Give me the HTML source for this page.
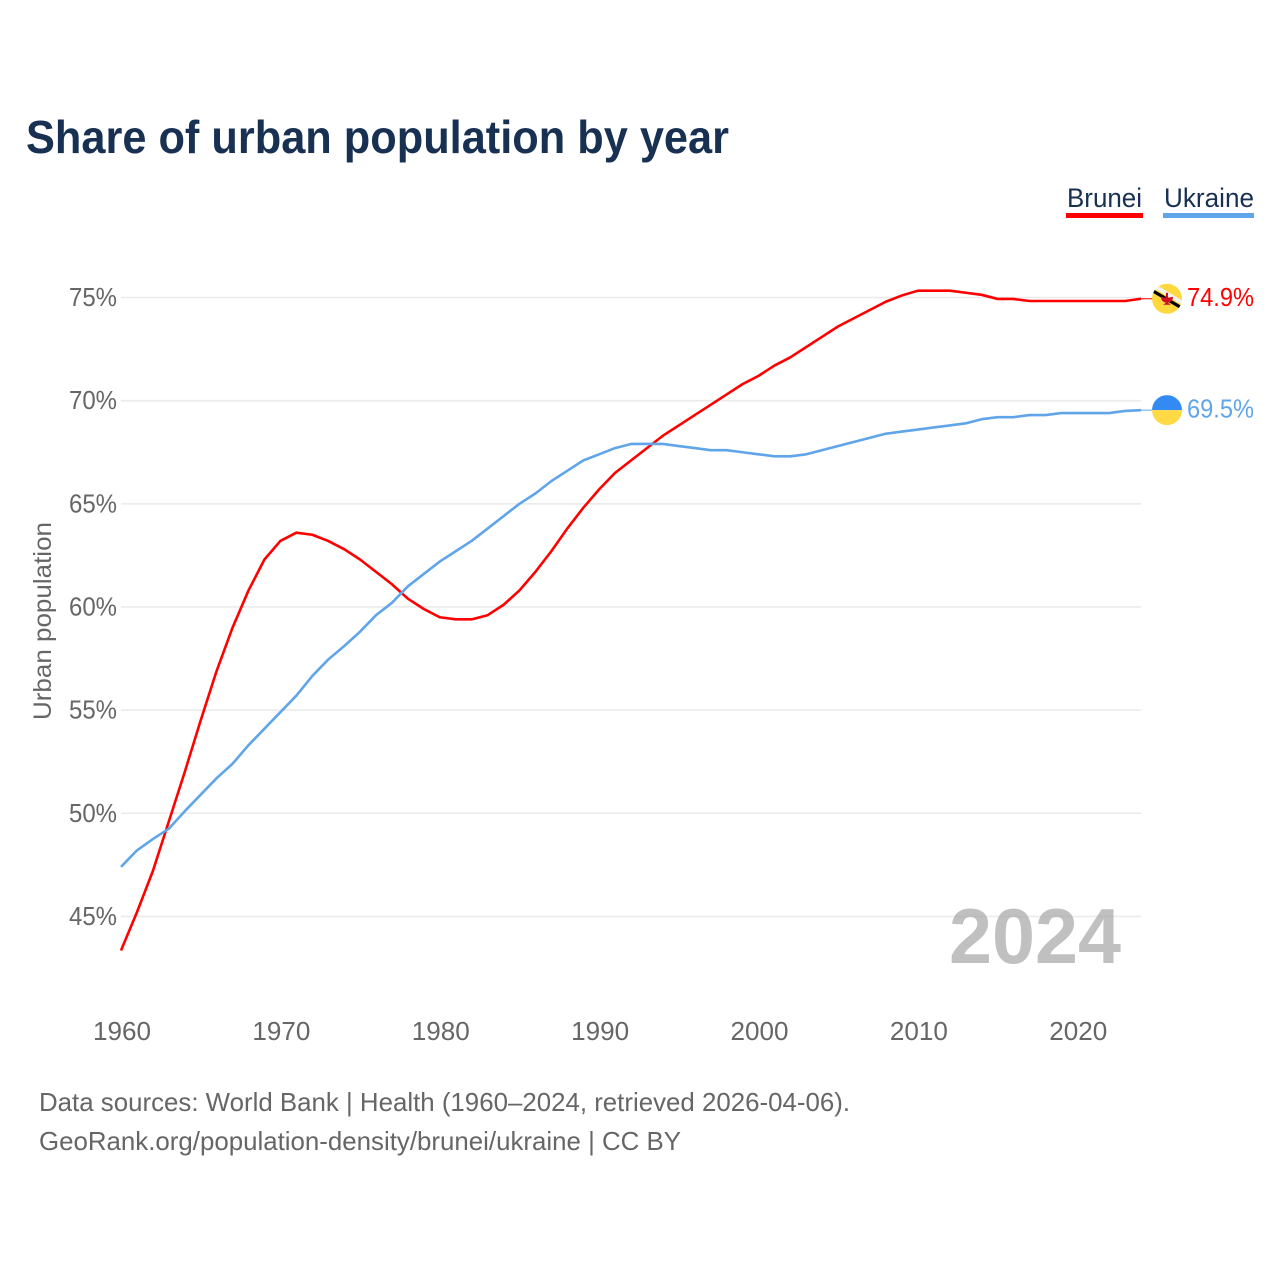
<!DOCTYPE html>
<html lang="en">
<head>
<meta charset="utf-8">
<title>Share of urban population by year</title>
<style>
html,body{margin:0;padding:0;background:#fff;}
svg{display:block;font-family:"Liberation Sans",sans-serif;}
</style>
</head>
<body>
<svg id="chart" xmlns="http://www.w3.org/2000/svg" width="1280" height="1280" viewBox="0 0 1280 1280">
  <rect x="0" y="0" width="1280" height="1280" fill="#ffffff"/>
  <text x="26" y="153" font-size="46" font-weight="700" fill="#183153" textLength="703" lengthAdjust="spacingAndGlyphs">Share of urban population by year</text>

  <g>
    <text x="1067" y="207" font-size="27" fill="#183153" textLength="75" lengthAdjust="spacingAndGlyphs">Brunei</text>
    <rect x="1066" y="213" width="77" height="5" fill="#ff0000"/>
  </g>
  <g>
    <text x="1164" y="207" font-size="27" fill="#183153" textLength="90" lengthAdjust="spacingAndGlyphs">Ukraine</text>
    <rect x="1163" y="213" width="91" height="5" fill="#60a5ea"/>
  </g>

  <g id="grid"></g>
  <g id="yticks"></g>
  <g id="xticks"></g>
  <text x="0" y="0" transform="translate(51 621) rotate(-90)" text-anchor="middle" font-size="25" fill="#666666" textLength="198" lengthAdjust="spacingAndGlyphs">Urban population</text>

  <text x="949" y="963" font-size="78" font-weight="700" fill="#a8a8a8" fill-opacity="0.72" textLength="172" lengthAdjust="spacingAndGlyphs">2024</text>

  <g id="series"></g>
  <g id="ends"></g>

  <text x="39" y="1111" font-size="26" fill="#666666" textLength="811" lengthAdjust="spacingAndGlyphs">Data sources: World Bank | Health (1960–2024, retrieved 2026-04-06).</text>
  <text x="39" y="1150" font-size="26" fill="#666666" textLength="642" lengthAdjust="spacingAndGlyphs">GeoRank.org/population-density/brunei/ukraine | CC BY</text>
</svg>
<script>
const years = [1960,1961,1962,1963,1964,1965,1966,1967,1968,1969,1970,1971,1972,1973,1974,1975,1976,1977,1978,1979,1980,1981,1982,1983,1984,1985,1986,1987,1988,1989,1990,1991,1992,1993,1994,1995,1996,1997,1998,1999,2000,2001,2002,2003,2004,2005,2006,2007,2008,2009,2010,2011,2012,2013,2014,2015,2016,2017,2018,2019,2020,2021,2022,2023,2024];
const bruneiValues = [43.35,45.2,47.2,49.6,52.0,54.5,56.9,59.0,60.8,62.3,63.2,63.6,63.5,63.2,62.8,62.3,61.7,61.1,60.4,59.9,59.5,59.4,59.4,59.6,60.1,60.8,61.7,62.7,63.8,64.8,65.7,66.5,67.1,67.7,68.3,68.8,69.3,69.8,70.3,70.8,71.2,71.7,72.1,72.6,73.1,73.6,74.0,74.4,74.8,75.1,75.33,75.33,75.33,75.23,75.13,74.93,74.93,74.83,74.83,74.83,74.83,74.83,74.83,74.83,74.94];
const ukraineValues = [47.4,48.2,48.75,49.25,50.1,50.9,51.7,52.4,53.3,54.1,54.9,55.7,56.65,57.45,58.1,58.8,59.6,60.2,61.0,61.6,62.2,62.7,63.2,63.8,64.4,65.0,65.5,66.1,66.6,67.1,67.4,67.7,67.9,67.9,67.9,67.8,67.7,67.6,67.6,67.5,67.4,67.3,67.3,67.4,67.6,67.8,68.0,68.2,68.4,68.5,68.6,68.7,68.8,68.9,69.1,69.2,69.2,69.3,69.3,69.4,69.4,69.4,69.4,69.5,69.54];
const yTickValues = [45,50,55,60,65,70,75];
const xTickValues = [1960,1970,1980,1990,2000,2010,2020];

const NS = 'http://www.w3.org/2000/svg';
function xScale(year){ return 121 + (year - 1960) * (1020 / 64); }
function yScale(value){ return 297.5 + (75 - value) * 20.63; }
function make(tag, parent, attrs){
  const el = document.createElementNS(NS, tag);
  for (const k in attrs) el.setAttribute(k, attrs[k]);
  parent.appendChild(el);
  return el;
}
const grid = document.getElementById('grid');
const yticks = document.getElementById('yticks');
const xticks = document.getElementById('xticks');
const seriesG = document.getElementById('series');
const ends = document.getElementById('ends');

yTickValues.forEach(function(v){
  const line = make('line', grid, {x1:121, x2:1141, y1:yScale(v), y2:yScale(v), stroke:'#ebebeb', 'stroke-width':1.6});
  
  
  const label = make('text', yticks, {x:117, y:yScale(v) + 8.5, 'text-anchor':'end', 'font-size':26, fill:'#666666', textLength:48, lengthAdjust:'spacingAndGlyphs'});
  label.textContent = v + '%';
  
  
});

xTickValues.forEach(function(y){
  const label = make('text', xticks, {x:xScale(y) + 1, y:1040, 'text-anchor':'middle', 'font-size':26, fill:'#666666', textLength:58, lengthAdjust:'spacingAndGlyphs'});
  label.textContent = String(y);
  
  
});

function drawLine(values, color){
  const d = values.map(function(v, i){
    return (i ? 'L' : 'M') + xScale(years[i]).toFixed(2) + ' ' + yScale(v).toFixed(2);
  }).join(' ');
  return make('path', seriesG, {d:d, fill:'none', stroke:color, 'stroke-width':2.6, 'stroke-linejoin':'round'});
}
const bruneiLine = drawLine(bruneiValues, '#ff0000');


const ukraineLine = drawLine(ukraineValues, '#60a5ea');



const lastX = xScale(years[years.length - 1]);
const bV = bruneiValues[bruneiValues.length - 1];
const uV = ukraineValues[ukraineValues.length - 1];
const bY = yScale(bV);
const uY = yScale(uV);
const flagX = 1167;

const bConn = make('line', ends, {x1:lastX, x2:1152, y1:bY, y2:bY, stroke:'#ff0000', 'stroke-width':1});


const uConn = make('line', ends, {x1:lastX, x2:1152, y1:uY, y2:uY, stroke:'#60a5ea', 'stroke-width':1});



const defs = make('defs', ends, {});
const cpB = make('clipPath', defs, {id:'clipBrunei'});
make('circle', cpB, {cx:flagX, cy:bY, r:15});
const cpU = make('clipPath', defs, {id:'clipUkraine'});
make('circle', cpU, {cx:flagX, cy:uY, r:15});

const flagB = make('g', ends, {'clip-path':'url(#clipBrunei)'});


make('rect', flagB, {x:flagX - 15, y:bY - 15, width:30, height:30, fill:'#ffd83d'});
make('path', flagB, {d:'M'+(flagX-16)+' '+(bY-11)+' L'+(flagX+16)+' '+(bY+8), stroke:'#f2f2f2', 'stroke-width':4, fill:'none', transform:'translate(1 -3)'});
make('path', flagB, {d:'M'+(flagX-16)+' '+(bY-9)+' L'+(flagX+16)+' '+(bY+10), stroke:'#000000', 'stroke-width':3.2, fill:'none'});
make('path', flagB, {d:'M'+(flagX-1)+' '+(bY-6)+' h2 v5 l5 -1 q0 5 -5 6 l3 2 h-8 l3 -2 q-5 -1 -5 -6 l5 1 z', fill:'#ce1126'});

const flagU = make('g', ends, {'clip-path':'url(#clipUkraine)'});


make('rect', flagU, {x:flagX - 15, y:uY - 15, width:30, height:15, fill:'#338af3'});
make('rect', flagU, {x:flagX - 15, y:uY, width:30, height:15, fill:'#ffda44'});

const bLabel = make('text', ends, {x:1187, y:bY + 7.5, 'font-size':26, fill:'#ff0000', textLength:67, lengthAdjust:'spacingAndGlyphs'});
bLabel.textContent = bV.toFixed(1) + '%';


const uLabel = make('text', ends, {x:1187, y:uY + 7.5, 'font-size':26, fill:'#60a5ea', textLength:67, lengthAdjust:'spacingAndGlyphs'});
uLabel.textContent = uV.toFixed(1) + '%';


</script>
</body>
</html>
